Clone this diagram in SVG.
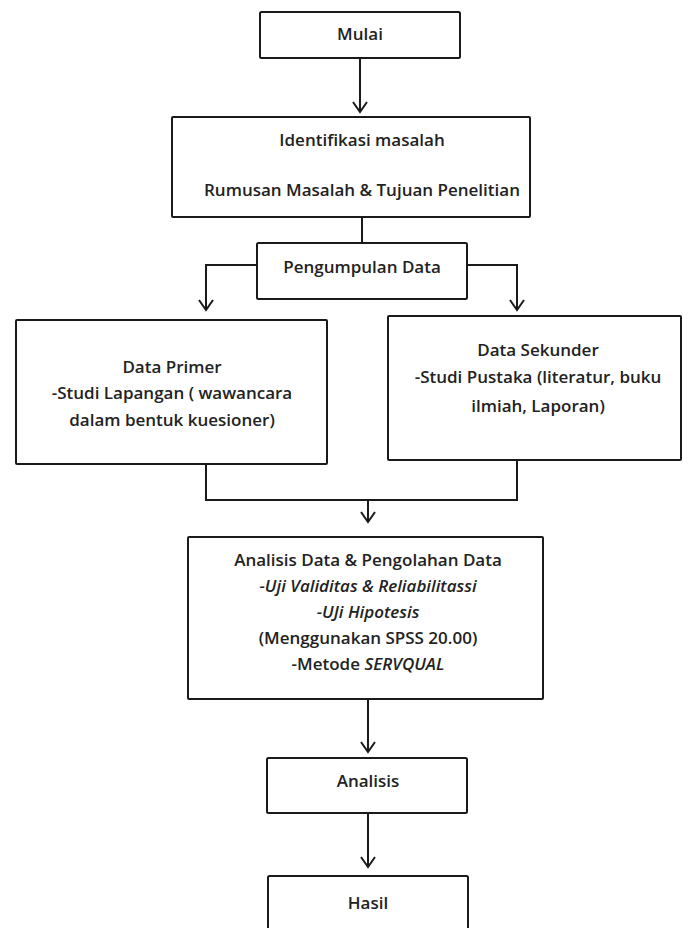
<svg xmlns="http://www.w3.org/2000/svg" width="683" height="928" viewBox="0 0 683 928">
<style>
.box{fill:#fff;stroke:#1a1a1a;stroke-width:2}
.ln{fill:none;stroke:#1a1a1a;stroke-width:2}
text{font-family:"Open Sans","Noto Sans",sans-serif;font-size:17px;font-weight:600;fill:#222;text-anchor:middle}
.i{font-style:italic}
</style>
<defs>
<marker id="ah" markerWidth="14" markerHeight="16" refX="11" refY="8" orient="auto" markerUnits="userSpaceOnUse">
<path d="M1,1 L11,8 L1,15" fill="none" stroke="#1a1a1a" stroke-width="2"/>
</marker>
</defs>
<rect width="683" height="928" fill="#fff"/>
<g id="connectors">
<line class="ln" x1="360" y1="58" x2="360" y2="112" marker-end="url(#ah)"/>
<line class="ln" x1="362" y1="217" x2="362" y2="243"/>
<polyline class="ln" points="257,265 206,265 206,310" marker-end="url(#ah)"/>
<polyline class="ln" points="467,265 517,265 517,310" marker-end="url(#ah)"/>
<polyline class="ln" points="206,464 206,500 517,500 517,460"/>
<line class="ln" x1="368" y1="500" x2="368" y2="522" marker-end="url(#ah)"/>
<line class="ln" x1="368" y1="699" x2="368" y2="752" marker-end="url(#ah)"/>
<line class="ln" x1="368" y1="813" x2="368" y2="867" marker-end="url(#ah)"/>
</g>
<g id="mulai">
<rect class="box" x="260" y="12" width="200" height="46" rx="1.5"/>
<text x="360" y="40">Mulai</text>
</g>
<g id="identifikasi">
<rect class="box" x="172" y="117" width="358" height="100" rx="1"/>
<text x="362" y="146">Identifikasi masalah</text>
<text x="362" y="196">Rumusan Masalah &amp; Tujuan Penelitian</text>
</g>
<g id="pengumpulan">
<rect class="box" x="257" y="243" width="210" height="56" rx="1.5"/>
<text x="362" y="273">Pengumpulan Data</text>
</g>
<g id="primer">
<rect class="box" x="16" y="320" width="311" height="144" rx="1"/>
<text x="172" y="373">Data Primer</text>
<text x="172" y="399">-Studi Lapangan ( wawancara</text>
<text x="172" y="426">dalam bentuk kuesioner)</text>
</g>
<g id="sekunder">
<rect class="box" x="388" y="316" width="293" height="144" rx="1"/>
<text x="538" y="356">Data Sekunder</text>
<text x="538" y="383">-Studi Pustaka (literatur, buku</text>
<text x="538" y="412">ilmiah, Laporan)</text>
</g>
<g id="analisis-data">
<rect class="box" x="188" y="537" width="355" height="162" rx="1"/>
<text x="368" y="566">Analisis Data &amp; Pengolahan Data</text>
<text x="368" y="592" class="i">-Uji Validitas &amp; Reliabilitassi</text>
<text x="368" y="618" class="i">-UJi Hipotesis</text>
<text x="368" y="644">(Menggunakan SPSS 20.00)</text>
<text x="368" y="670">-Metode <tspan class="i">SERVQUAL</tspan></text>
</g>
<g id="analisis">
<rect class="box" x="267" y="758" width="200" height="55" rx="1.5"/>
<text x="368" y="787">Analisis</text>
</g>
<g id="hasil">
<rect class="box" x="268" y="876" width="200" height="70" rx="1.5"/>
<text x="368" y="909">Hasil</text>
</g>
</svg>
